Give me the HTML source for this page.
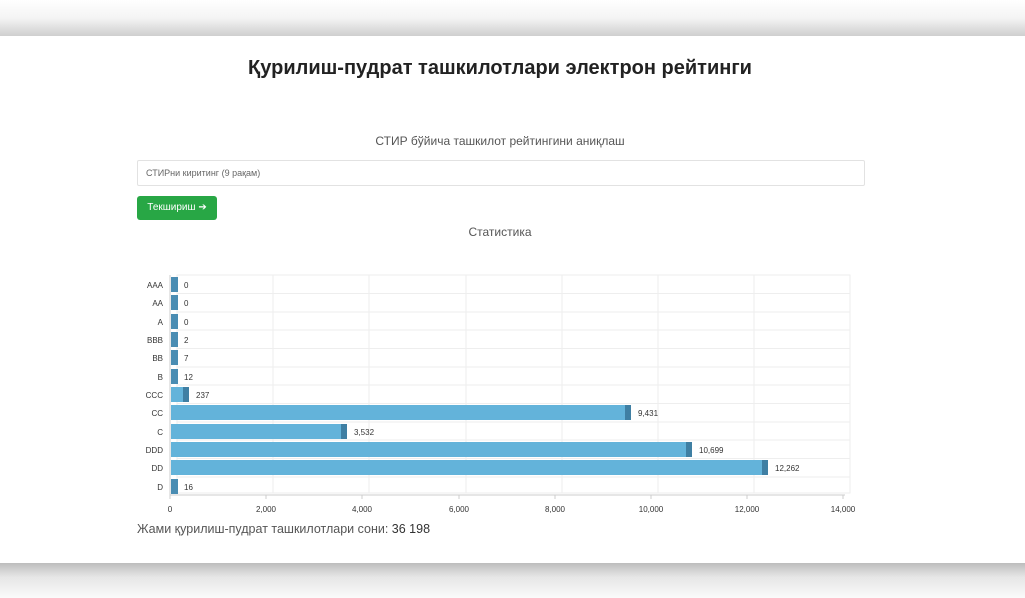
<!DOCTYPE html>
<html><head><meta charset="utf-8"><style>
body{margin:0;width:1025px;height:598px;overflow:hidden;background:#fff;font-family:"Liberation Sans",sans-serif;position:relative}
.top{position:absolute;left:0;top:0;width:1025px;height:36px;background:linear-gradient(#fff 0%,#f4f4f4 50%,#cfcfcf 100%)}
.bot{position:absolute;left:0;top:563px;width:1025px;height:35px;background:linear-gradient(#bdbdbd 0%,#e6e6e6 40%,#fafafa 100%)}
.t{position:absolute;white-space:nowrap}
</style></head><body>
<div class="top"></div><div class="bot"></div>
<div class="t" style="left:0;width:1000px;text-align:center;top:57px;font-size:20px;color:#222;font-weight:bold">Қурилиш-пудрат ташкилотлари электрон рейтинги</div>
<div class="t" style="left:0;width:1000px;text-align:center;top:134px;font-size:12px;color:#555">СТИР бўйича ташкилот рейтингини аниқлаш</div>
<div style="position:absolute;left:137px;top:160px;width:726px;height:24px;border:1px solid #e2e2e2;border-radius:2px"></div>
<div class="t" style="left:146px;top:168px;font-size:9px;color:#666">СТИРни киритинг (9 рақам)</div>
<div style="position:absolute;left:137px;top:196px;width:80px;height:24px;background:#28a745;border-radius:3px;color:#fff;font-size:10px;line-height:24px;text-align:center">Текшириш ➔</div>
<div class="t" style="left:0;width:1000px;text-align:center;top:225px;font-size:12px;color:#555">Статистика</div>
<svg style="position:absolute;left:0;top:0" width="1025" height="598" font-family="Liberation Sans, sans-serif">
<g stroke="#eeeeee" stroke-width="1" fill="none">
<rect x="177" y="275" width="673" height="218"/>
<path d="M273 275V493M369 275V493M466 275V493M562 275V493M658 275V493M754 275V493"/>
<path d="M177 293.5H850M177 312H850M177 330H850M177 348.5H850M177 367H850M177 385H850M177 403.5H850M177 422H850M177 440H850M177 458.5H850M177 477H850"/>
</g>
<path d="M170 495H845M170 275V495" stroke="#ccc"/>
<g stroke="#ccc"><path d="M170 495v4M266 495v4M362 495v4M459 495v4M555 495v4M651 495v4M747 495v4M843 495v4"/></g>
<g font-size="8" fill="#333" text-anchor="middle">
<text x="170" y="512">0</text><text x="266" y="512">2,000</text><text x="362" y="512">4,000</text><text x="459" y="512">6,000</text><text x="555" y="512">8,000</text><text x="651" y="512">10,000</text><text x="747" y="512">12,000</text><text x="843" y="512">14,000</text>
</g>
<g font-size="8" fill="#333" text-anchor="end">
<text x="163" y="288">AAA</text><text x="163" y="306">AA</text><text x="163" y="325">A</text><text x="163" y="343">BBB</text><text x="163" y="361">BB</text><text x="163" y="380">B</text><text x="163" y="398">CCC</text><text x="163" y="416">CC</text><text x="163" y="435">C</text><text x="163" y="453">DDD</text><text x="163" y="471">DD</text><text x="163" y="490">D</text>
</g>
<g fill="#4a8db3">
<rect x="171" y="277" width="7" height="15"/><rect x="171" y="295" width="7" height="15"/><rect x="171" y="314" width="7" height="15"/><rect x="171" y="332" width="7" height="15"/><rect x="171" y="350" width="7" height="15"/><rect x="171" y="369" width="7" height="15"/><rect x="171" y="479" width="7" height="15"/>
</g>
<g fill="#63b3da">
<rect x="171" y="387" width="12" height="15"/><rect x="171" y="405" width="454" height="15"/><rect x="171" y="424" width="170" height="15"/><rect x="171" y="442" width="515" height="15"/><rect x="171" y="460" width="591" height="15"/>
</g>
<g fill="#3f7fa3">
<rect x="183" y="387" width="6" height="15"/><rect x="625" y="405" width="6" height="15"/><rect x="341" y="424" width="6" height="15"/><rect x="686" y="442" width="6" height="15"/><rect x="762" y="460" width="6" height="15"/>
</g>
<g font-size="8" fill="#333">
<text x="184" y="288">0</text><text x="184" y="306">0</text><text x="184" y="325">0</text><text x="184" y="343">2</text><text x="184" y="361">7</text><text x="184" y="380">12</text><text x="196" y="398">237</text><text x="638" y="416">9,431</text><text x="354" y="435">3,532</text><text x="699" y="453">10,699</text><text x="775" y="471">12,262</text><text x="184" y="490">16</text>
</g>
</svg>
<div class="t" style="left:137px;top:522px;font-size:12.5px;color:#555">Жами қурилиш-пудрат ташкилотлари сони: <span style="color:#333">36 198</span></div>
</body></html>
